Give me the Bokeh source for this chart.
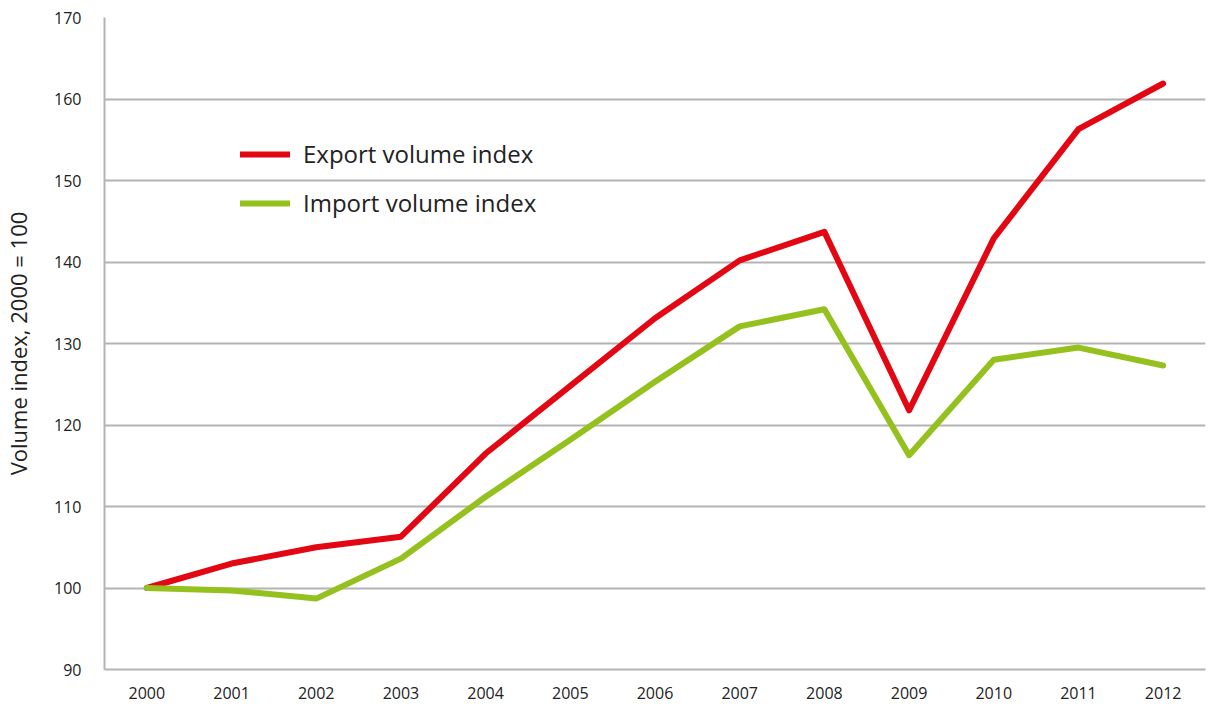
from bokeh.plotting import figure
from bokeh.models import Legend, LegendItem, FixedTicker, Range1d, FactorRange
from bokeh.embed import file_html
from bokeh.resources import INLINE

years = [str(y) for y in range(2000, 2013)]
export_index = [100, 103.0, 105.0, 106.3, 116.5, 124.8, 133.1, 140.2, 143.7, 121.8, 142.9, 156.3, 161.9]
import_index = [100, 99.7, 98.7, 103.6, 111.2, 118.2, 125.3, 132.1, 134.2, 116.3, 128.0, 129.5, 127.3]
y_ticks = [90, 100, 110, 120, 130, 140, 150, 160, 170]

FONT = "Open Sans"
GRID = "#b3b3b3"

p = figure(x_range=FactorRange(*years), y_range=Range1d(90, 170),
           width=1208, height=703, output_backend="svg", toolbar_location=None,
           min_border_left=96, min_border_right=3, min_border_top=17, min_border_bottom=34)
p.outline_line_color = None

r_exp = p.line(years, export_index, line_color="#e30613", line_width=6, line_join="round", line_cap="round")
r_imp = p.line(years, import_index, line_color="#95c11f", line_width=6, line_join="round", line_cap="round")

p.yaxis.ticker = FixedTicker(ticks=y_ticks)
p.ygrid.ticker = FixedTicker(ticks=y_ticks)
p.ygrid.grid_line_color = GRID
p.ygrid.grid_line_width = 2
p.xgrid.grid_line_color = None

for ax in (p.xaxis, p.yaxis):
    ax.axis_line_color = GRID
    ax.axis_line_width = 2
    ax.major_tick_line_color = None
    ax.minor_tick_line_color = None
    ax.major_label_text_font = FONT
    ax.major_label_text_font_size = "16px"
    ax.major_label_text_color = "#222222"

p.yaxis.major_label_standoff = 17
p.xaxis.major_label_standoff = 11
p.yaxis.axis_label = "Volume index, 2000 = 100"
p.yaxis.axis_label_text_font = FONT
p.yaxis.axis_label_text_font_size = "22px"
p.yaxis.axis_label_text_font_style = "normal"
p.yaxis.axis_label_text_color = "#222222"
p.yaxis.axis_label_standoff = 18

legend = Legend(items=[LegendItem(label="Export volume index", renderers=[r_exp]),
                       LegendItem(label="Import volume index", renderers=[r_imp])],
                location=(136, 450), orientation="vertical",
                background_fill_alpha=0, border_line_color=None,
                padding=0, margin=0, spacing=16,
                glyph_width=50, glyph_height=20, label_height=20, label_standoff=13,
                label_text_font=FONT, label_text_font_size="24px", label_text_color="#222222")
p.add_layout(legend, "center")

open("out.html", "w").write(file_html(p, INLINE))
